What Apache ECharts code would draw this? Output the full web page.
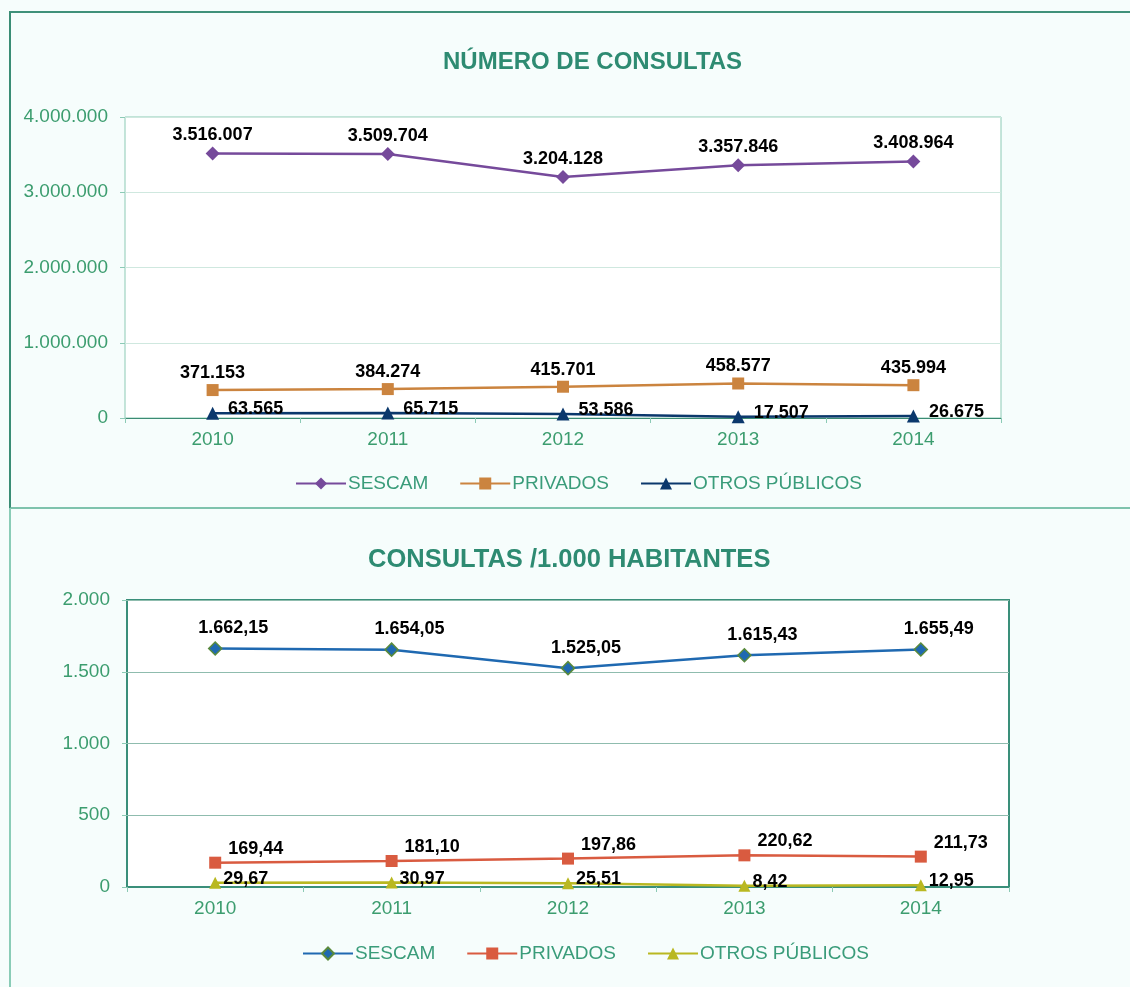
<!DOCTYPE html>
<html>
<head>
<meta charset="utf-8">
<script src="https://cdn.jsdelivr.net/npm/echarts@6.0.0/dist/echarts.min.js"></script>
<style>
  html, body { margin: 0; padding: 0; background: #f6fdfc; }
  #frame1 { position: absolute; left: 9px; top: 11px; width: 1130px; height: 494px;
            border-top: 2px solid #3f917a; border-left: 2px solid #3a8d75; border-bottom: 2px solid #7fc3ad; }
  #frame2 { position: absolute; left: 9px; top: 508px; width: 0; height: 480px; border-left: 2px solid #8accb7; }
  #chart1 { position: absolute; left: 0; top: 0; width: 1130px; height: 507px; }
  #chart2 { position: absolute; left: 0; top: 507px; width: 1130px; height: 480px; }
</style>
</head>
<body>
<div id="frame1"></div>
<div id="frame2"></div>
<div id="chart1"></div>
<div id="chart2"></div>
<script>
// datos
const years = ['2010', '2011', '2012', '2013', '2014'];
const seriesNames = ['SESCAM', 'PRIVADOS', 'OTROS PÚBLICOS'];

const consultasSescam = [3516007, 3509704, 3204128, 3357846, 3408964];
const consultasPrivados = [371153, 384274, 415701, 458577, 435994];
const consultasOtros = [63565, 65715, 53586, 17507, 26675];

const habSescam = [1662.15, 1654.05, 1525.05, 1615.43, 1655.49];
const habPrivados = [169.44, 181.10, 197.86, 220.62, 211.73];
const habOtros = [29.67, 30.97, 25.51, 8.42, 12.95];

const FONT = '"Liberation Sans", Arial, sans-serif';
const GREEN = '#3c9d6f';
const LEGEND_GREEN = '#3a9c7a';
const TITLE_GREEN = '#2e8b72';

function fmtInt(v) {
    return String(Math.round(v)).replace(/\B(?=(\d{3})+(?!\d))/g, '.');
}
function fmtDec(v) {
    let p = v.toFixed(2).split('.');
    return fmtInt(+p[0]) + ',' + p[1];
}

function labelStyle(extra) {
    return Object.assign({
        show: true,
        color: '#000',
        fontFamily: FONT,
        fontSize: 18,
        fontWeight: 'bold'
    }, extra);
}

function lineSeries(name, data, color, symbol, size, label, width, borderColor) {
    return {
        name: name,
        type: 'line',
        data: data,
        symbol: symbol,
        symbolSize: size,
        lineStyle: { color: color, width: width },
        itemStyle: { color: color, borderColor: borderColor || color, borderWidth: borderColor ? 1.5 : 0 },
        label: label,
        emphasis: { disabled: true },
        animation: false
    };
}

function baseOption(opts) {
    return {
        textStyle: { fontFamily: FONT },
        title: {
            text: opts.title,
            left: opts.titleLeft,
            top: opts.titleTop,
            padding: 0,
            textStyle: { color: TITLE_GREEN, fontSize: opts.titleSize, fontWeight: 'bold', fontFamily: FONT }
        },
        legend: {
            data: seriesNames,
            left: opts.legendLeft,
            top: opts.legendTop,
            padding: 0,
            itemWidth: 50,
            itemHeight: 15,
            itemGap: 31,
            selectedMode: false,
            textStyle: { color: LEGEND_GREEN, fontSize: 19, fontFamily: FONT, padding: [0, 0, 0, -3] }
        },
        grid: {
            left: opts.grid.left, top: opts.grid.top, width: opts.grid.width, height: opts.grid.height,
            show: true,
            backgroundColor: '#ffffff',
            borderColor: opts.borderColor,
            borderWidth: opts.borderWidth
        },
        xAxis: {
            type: 'category',
            data: years,
            boundaryGap: true,
            axisLine: { lineStyle: { color: opts.xAxisColor, width: opts.borderWidth } },
            axisTick: { show: true, length: 5, lineStyle: { color: '#8ccab5' } },
            axisLabel: { color: GREEN, fontSize: 19, fontFamily: FONT, margin: 12 }
        },
        yAxis: {
            type: 'value',
            min: 0,
            max: opts.yMax,
            interval: opts.yInterval,
            axisLine: { show: false },
            axisTick: { show: true, length: 5, lineStyle: { color: '#8ccab5' } },
            splitLine: { lineStyle: { color: opts.splitColor, width: 1 } },
            axisLabel: { color: GREEN, fontSize: 19, fontFamily: FONT, margin: 17, formatter: fmtInt }
        }
    };
}

// gráfico 1: número de consultas
let chart1 = echarts.init(document.getElementById('chart1'));
let opt1 = baseOption({
    title: 'NÚMERO DE CONSULTAS', titleLeft: 443, titleTop: 50, titleSize: 24,
    legendLeft: 295, legendTop: 474,
    grid: { left: 125, top: 117, width: 876, height: 301 },
    borderColor: '#8ccab5', borderWidth: 1, xAxisColor: '#3b8b73', splitColor: '#cfe8df',
    yMax: 4000000, yInterval: 1000000
});
opt1.series = [
    lineSeries('SESCAM', consultasSescam, '#764a9b', 'diamond', 14,
        labelStyle({ position: 'top', distance: 2, formatter: p => fmtInt(p.value) }), 2.5),
    lineSeries('PRIVADOS', consultasPrivados, '#cb843f', 'rect', 12,
        labelStyle({ position: 'top', distance: 2, formatter: p => fmtInt(p.value) }), 2.5),
    lineSeries('OTROS PÚBLICOS', consultasOtros, '#0b386c', 'triangle', 13,
        labelStyle({ position: 'right', distance: 9, offset: [0, -4], formatter: p => fmtInt(p.value) }), 2.5)
];
chart1.setOption(opt1);

// gráfico 2: consultas por 1.000 habitantes
let chart2 = echarts.init(document.getElementById('chart2'));
let opt2 = baseOption({
    title: 'CONSULTAS /1.000 HABITANTES', titleLeft: 368, titleTop: 40, titleSize: 25.5,
    legendLeft: 302, legendTop: 437,
    grid: { left: 127, top: 93, width: 882, height: 287 },
    borderColor: '#3a8f7a', borderWidth: 2, xAxisColor: '#3a8f7a', splitColor: '#8fbcae',
    yMax: 2000, yInterval: 500
});
opt2.series = [
    lineSeries('SESCAM', habSescam, '#1f69b1', 'diamond', 13,
        labelStyle({ position: 'top', distance: 4, offset: [18, 0], formatter: p => fmtDec(p.value) }), 2.5, '#5a8a3c'),
    lineSeries('PRIVADOS', habPrivados, '#d95b40', 'rect', 12,
        labelStyle({ position: 'right', distance: 7, offset: [0, -14], formatter: p => fmtDec(p.value) }), 2.5),
    lineSeries('OTROS PÚBLICOS', habOtros, '#b9b821', 'triangle', 12,
        labelStyle({ position: 'right', distance: 2, offset: [0, -4], formatter: p => fmtDec(p.value) }), 2.5)
];
chart2.setOption(opt2);
</script>
</body>
</html>
